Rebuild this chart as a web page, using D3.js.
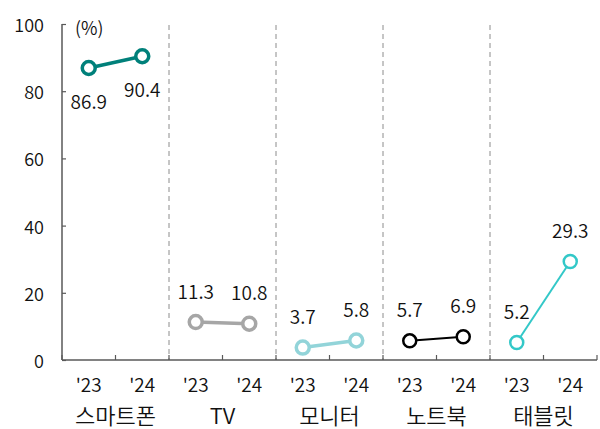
<!DOCTYPE html>
<html><head><meta charset="utf-8">
<script src="https://cdn.jsdelivr.net/npm/d3@7"></script>
<style>body{margin:0;background:#fff}svg{display:block}text{font-family:"Noto Sans CJK KR","Noto Sans",sans-serif;fill:#111;font-weight:350}</style>
</head><body><svg id="c" width="600" height="429"></svg>
<script>
const categories = ["스마트폰","TV","모니터","노트북","태블릿"];
const years = ["'23","'24"];
const values2023 = [86.9, 11.3, 3.7, 5.7, 5.2];
const values2024 = [90.4, 10.8, 5.8, 6.9, 29.3];
const colors = ["#00807a","#a6a6a6","#92d4d9","#000000","#33c8c8"];
const lineWidths = [3.5, 3.5, 3.5, 2, 2];
const labelBelow = [true,false,false,false,false];
const yTicks = [0,20,40,60,80,100];

const svg = d3.select("#c");
const L=62, R=597, T=24, B=360;
const slots = [];
categories.forEach(c=>years.forEach(y=>slots.push(c+"|"+y)));
const x = d3.scaleBand().domain(slots).range([L,R]);
const xc = d3.scaleBand().domain(categories).range([L,R]);
const y = d3.scaleLinear().domain([0,100]).range([B,T]);
const axisColor="#595959";

// y axis
const ya = svg.append("g").attr("transform",`translate(${L},0)`).call(d3.axisRight(y).tickValues(yTicks).tickSize(4).tickFormat(""));
ya.select(".domain").attr("stroke",axisColor).attr("stroke-width",1.5).attr("d",`M0,${T}V${B}`);
ya.selectAll(".tick line").attr("stroke",axisColor).attr("stroke-width",1.2);
svg.append("g").selectAll("text").data(yTicks).join("text")
  .attr("x",44).attr("y",d=>y(d)).attr("text-anchor","end").attr("dominant-baseline","central")
  .attr("font-size",18).text(d=>d);
svg.append("text").attr("x",75).attr("y",T+3).attr("dominant-baseline","central").attr("font-size",18).text("(%)");

// dashed separators
svg.append("g").selectAll("line").data(categories.slice(1)).join("line")
  .attr("x1",d=>xc(d)).attr("x2",d=>xc(d)).attr("y1",T+1).attr("y2",B)
  .attr("stroke","#8c8c8c").attr("stroke-width",1).attr("stroke-dasharray","5,4");

// x axis
const xa = svg.append("g").attr("transform",`translate(0,${B})`)
  .call(d3.axisTop(x).tickValues([]).tickSizeOuter(0));
xa.select(".domain").attr("stroke",axisColor).attr("stroke-width",1.5).attr("d",`M${L},0H${R}`);
const bounds = d3.range(slots.length+1).map(i=>L+i*x.step());
svg.append("g").selectAll("line").data(bounds).join("line")
  .attr("x1",d=>d).attr("x2",d=>d).attr("y1",B).attr("y2",B-5).attr("stroke",axisColor).attr("stroke-width",1.2);
svg.append("g").selectAll("text").data(slots).join("text")
  .attr("x",d=>x(d)+x.bandwidth()/2).attr("y",383).attr("text-anchor","middle").attr("dominant-baseline","central")
  .attr("font-size",19).text(d=>d.split("|")[1]);
svg.append("g").selectAll("text").data(categories).join("text")
  .attr("x",d=>xc(d)+xc.bandwidth()/2).attr("y",414).attr("text-anchor","middle").attr("dominant-baseline","central")
  .attr("font-size",22).text(d=>d);

// series
categories.forEach((c,i)=>{
  const pts=[{k:c+"|'23",v:values2023[i]},{k:c+"|'24",v:values2024[i]}];
  const g=svg.append("g");
  const cx=d=>x(d.k)+x.bandwidth()/2;
  g.append("path").datum(pts).attr("d",d3.line().x(cx).y(d=>y(d.v)))
    .attr("fill","none").attr("stroke",colors[i]).attr("stroke-width",lineWidths[i]);
  g.selectAll("circle").data(pts).join("circle").attr("cx",cx).attr("cy",d=>y(d.v)).attr("r",6.5)
    .attr("fill","#fff").attr("stroke",colors[i]).attr("stroke-width",i===3||i===4?2.5:3.5);
  g.selectAll("text").data(pts).join("text").attr("x",cx).attr("y",d=>y(d.v)+(labelBelow[i]?32:-32))
    .attr("text-anchor","middle").attr("dominant-baseline","central").attr("font-size",19).text(d=>d.v.toFixed(1));
});
</script></body></html>
